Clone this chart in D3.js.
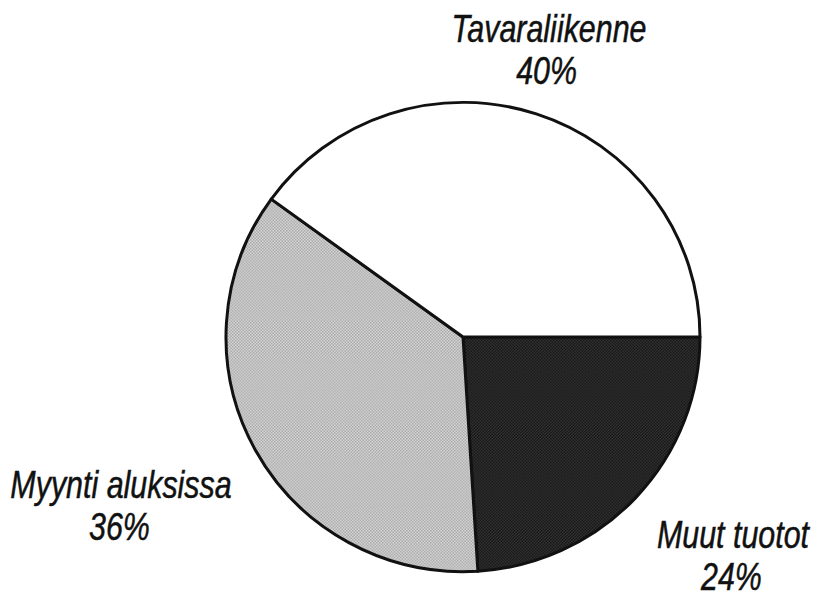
<!DOCTYPE html>
<html>
<head>
<meta charset="utf-8">
<script src="https://cdn.jsdelivr.net/npm/d3@7"></script>
<style>
  body { margin: 0; background: #fff; }
  svg text { font-family: "Liberation Sans", Arial, sans-serif; font-style: italic; fill: #111; stroke: #111; stroke-width: 0.5; }
</style>
</head>
<body>
<div id="vis"></div>
<script>
// data
var categories = ['Muut tuotot', 'Myynti aluksissa', 'Tavaraliikenne'];
var shares = [24, 36, 40];
var shareLabels = ['24%', '36%', '40%'];

var width = 814;
var height = 597;
var center = { x: 463, y: 337 };
var radius = 237;

var svg = d3.select('#vis')
  .append('svg')
  .attr('width', width)
  .attr('height', height);

// stipple patterns like the scanned print
var defs = svg.append('defs');
function checker(id, a, b) {
  var p = defs.append('pattern')
    .attr('id', id)
    .attr('width', 3)
    .attr('height', 3)
    .attr('patternUnits', 'userSpaceOnUse');
  p.append('rect').attr('width', 3).attr('height', 3).attr('fill', a);
  p.append('rect').attr('width', 1.5).attr('height', 1.5).attr('fill', b);
  p.append('rect').attr('x', 1.5).attr('y', 1.5).attr('width', 1.5).attr('height', 1.5).attr('fill', b);
}
checker('light', '#d6d6d6', '#a9a9a9');
checker('dark', '#333333', '#151515');

var fills = d3.scaleOrdinal()
  .domain(categories)
  .range(['url(#dark)', 'url(#light)', '#ffffff']);

var slices = categories.map(function(c, i) {
  return { name: c, value: shares[i], label: shareLabels[i] };
});

// start at 3 o'clock, go clockwise
var pie = d3.pie()
  .sort(null)
  .value(function(d) { return d.value; })
  .startAngle(Math.PI / 2)
  .endAngle(Math.PI / 2 + 2 * Math.PI);

var arc = d3.arc().innerRadius(0).outerRadius(radius);

var g = svg.append('g')
  .attr('transform', 'translate(' + center.x + ',' + center.y + ') scale(1,0.99)');

g.selectAll('path')
  .data(pie(slices))
  .enter()
  .append('path')
  .attr('d', arc)
  .attr('fill', function(d) { return fills(d.data.name); })
  .attr('stroke', '#111')
  .attr('stroke-width', 3)
  .attr('stroke-linejoin', 'round');

// label positions (name baseline, percent below)
var labelPos = {
  'Tavaraliikenne': { x: 549, y: 42 },
  'Myynti aluksissa': { x: 121, y: 498 },
  'Muut tuotot': { x: 733, y: 548 }
};

var labels = svg.selectAll('.lbl')
  .data(slices)
  .enter()
  .append('g')
  .attr('class', 'lbl')
  .attr('transform', function(d) {
    var p = labelPos[d.name];
    return 'translate(' + p.x + ',' + p.y + ') scale(0.8,1)';
  });

labels.append('text')
  .attr('text-anchor', 'middle')
  .attr('font-size', 38)
  .text(function(d) { return d.name; });

labels.append('text')
  .attr('text-anchor', 'middle')
  .attr('font-size', 38)
  .attr('y', 42)
  .attr('x', function(d) { return d.name === 'Tavaraliikenne' ? -3 : -2; })
  .text(function(d) { return d.label; });
</script>
</body>
</html>
